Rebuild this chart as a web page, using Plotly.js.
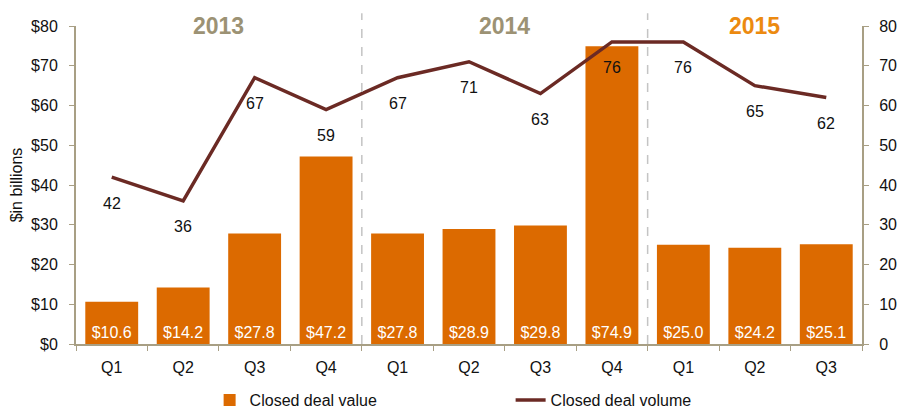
<!DOCTYPE html>
<html>
<head>
<meta charset="utf-8">
<script src="https://cdn.plot.ly/plotly-3.0.1.min.js"></script>
<style>
  body { margin: 0; background: #fff; }
  #chart { width: 899px; height: 409px; }
</style>
</head>
<body>
<div id="chart"></div>
<script>
const categories = ['2013 Q1', '2013 Q2', '2013 Q3', '2013 Q4', '2014 Q1', '2014 Q2', '2014 Q3', '2014 Q4', '2015 Q1', '2015 Q2', '2015 Q3'];
const quarterLabels = ['Q1', 'Q2', 'Q3', 'Q4', 'Q1', 'Q2', 'Q3', 'Q4', 'Q1', 'Q2', 'Q3'];
const dealValue = [10.6, 14.2, 27.8, 47.2, 27.8, 28.9, 29.8, 74.9, 25.0, 24.2, 25.1];
const dealVolume = [42, 36, 67, 59, 67, 71, 63, 76, 76, 65, 62];
const years = ['2013', '2014', '2015'];
const yearCenters = [1.5, 5.5, 9];
const yearColors = ['#9c9274', '#9c9274', '#ec8a10'];
const dividers = [3.5, 7.5];

const axisColor = '#a89f84';
const font = 'Liberation Sans, Arial, sans-serif';

const bars = {
    type: 'bar',
    x: categories,
    y: dealValue,
    name: 'Closed deal value',
    marker: { color: '#dc6a00' },
    text: dealValue.map(v => '$' + v.toFixed(1)),
    textposition: 'inside',
    insidetextanchor: 'start',
    textfont: { color: '#fff', size: 16, family: font },
    hoverinfo: 'skip'
};

const line = {
    type: 'scatter',
    mode: 'lines',
    x: categories,
    y: dealVolume,
    yaxis: 'y2',
    name: 'Closed deal volume',
    line: { color: '#6b2a24', width: 3.5 },
    hoverinfo: 'skip'
};

const annotations = dealVolume.map((v, i) => ({
    x: categories[i], y: v, xref: 'x', yref: 'y2',
    text: String(v), showarrow: false, yshift: -26,
    font: { size: 16, color: '#111', family: font }
}));

years.forEach((yr, i) => {
    annotations.push({
        x: yearCenters[i], y: 1, xref: 'x', yref: 'paper', yanchor: 'middle',
        text: '<b>' + yr + '</b>', showarrow: false,
        font: { size: 23, color: yearColors[i], family: font }
    });
});

const shapes = dividers.map(d => ({
    type: 'line', xref: 'x', yref: 'paper',
    x0: d, x1: d, y0: 0, y1: 1.04,
    line: { color: '#c4c4c4', width: 1.5, dash: 'dash' }
}));

const layout = {
    width: 899,
    height: 409,
    margin: { l: 76, r: 37, t: 26, b: 65 },
    paper_bgcolor: '#fff',
    plot_bgcolor: '#fff',
    font: { family: font, size: 16, color: '#111' },
    bargap: 0.26,
    showlegend: true,
    legend: {
        orientation: 'h', x: 0.17, xanchor: 'left',
        yref: 'container', y: 0.022, yanchor: 'middle',
        font: { size: 16, color: '#111' },
        entrywidth: 256, entrywidthmode: 'pixels'
    },
    xaxis: {
        type: 'category',
        tickmode: 'array',
        tickvals: categories,
        ticktext: quarterLabels,
        tickson: 'boundaries',
        ticks: 'outside', ticklen: 5, tickcolor: axisColor,
        ticklabelstandoff: 8,
        showline: true, linecolor: axisColor, linewidth: 2,
        showgrid: false,
        tickfont: { size: 16 }
    },
    yaxis: {
        range: [0, 80], dtick: 10, tickprefix: '$',
        ticks: 'outside', ticklen: 5, tickcolor: axisColor,
        ticklabelstandoff: 8,
        showline: true, linecolor: axisColor, linewidth: 2,
        showgrid: false, zeroline: false,
        title: { text: '$in billions', font: { size: 16 }, standoff: 4 },
        tickfont: { size: 16 }
    },
    yaxis2: {
        range: [0, 80], dtick: 10, overlaying: 'y', side: 'right',
        ticks: 'outside', ticklen: 5, tickcolor: axisColor,
        ticklabelstandoff: 7,
        showline: true, linecolor: axisColor, linewidth: 2,
        showgrid: false, zeroline: false,
        tickfont: { size: 16 }
    },
    annotations: annotations,
    shapes: shapes
};

Plotly.newPlot('chart', [bars, line], layout, { displayModeBar: false, staticPlot: true });
</script>
</body>
</html>
